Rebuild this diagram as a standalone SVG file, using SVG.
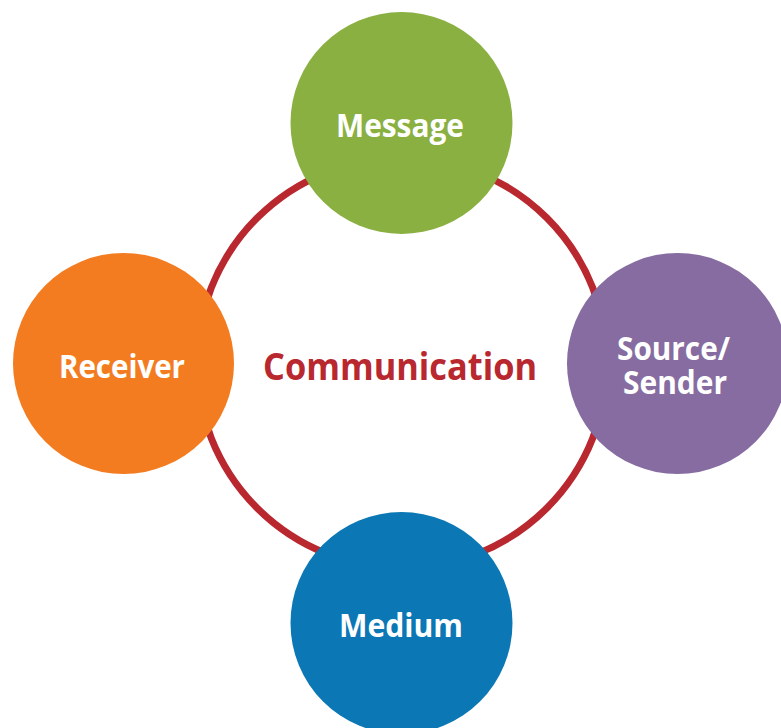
<svg xmlns="http://www.w3.org/2000/svg" width="781" height="728" viewBox="0 0 781 728">
<style>
.lbl{font-family:"Open Sans","Noto Sans","DejaVu Sans",sans-serif;font-weight:bold;fill:#ffffff;font-size:33px}
.ring{fill:none;stroke:#B9272F;stroke-width:7}
</style>
<rect width="781" height="728" fill="#ffffff"/>
<g id="connectors">
<circle class="ring" cx="402" cy="363" r="205"/>
</g>
<g id="center">
<text x="263" y="380" font-family="Open Sans, Noto Sans, sans-serif" font-weight="bold" font-size="38" fill="#B9272F" textLength="274" lengthAdjust="spacingAndGlyphs">Communication</text>
</g>
<g id="message">
<circle cx="401.5" cy="123" r="111" fill="#8AB041"/>
<text class="lbl" x="336" y="137" textLength="128" lengthAdjust="spacingAndGlyphs">Message</text>
</g>
<g id="receiver">
<circle cx="123.5" cy="363.5" r="110.5" fill="#F47C20"/>
<text class="lbl" x="59" y="378" textLength="126" lengthAdjust="spacingAndGlyphs">Receiver</text>
</g>
<g id="source">
<circle cx="677.5" cy="363.5" r="110.5" fill="#866CA1"/>
<text class="lbl" x="617" y="360" font-size="31" textLength="113" lengthAdjust="spacingAndGlyphs">Source/</text>
<text class="lbl" x="623" y="394" font-size="31" textLength="104" lengthAdjust="spacingAndGlyphs">Sender</text>
</g>
<g id="medium">
<circle cx="401.5" cy="623" r="111" fill="#0B77B5"/>
<text class="lbl" x="339" y="637" textLength="124" lengthAdjust="spacingAndGlyphs">Medium</text>
</g>
</svg>
